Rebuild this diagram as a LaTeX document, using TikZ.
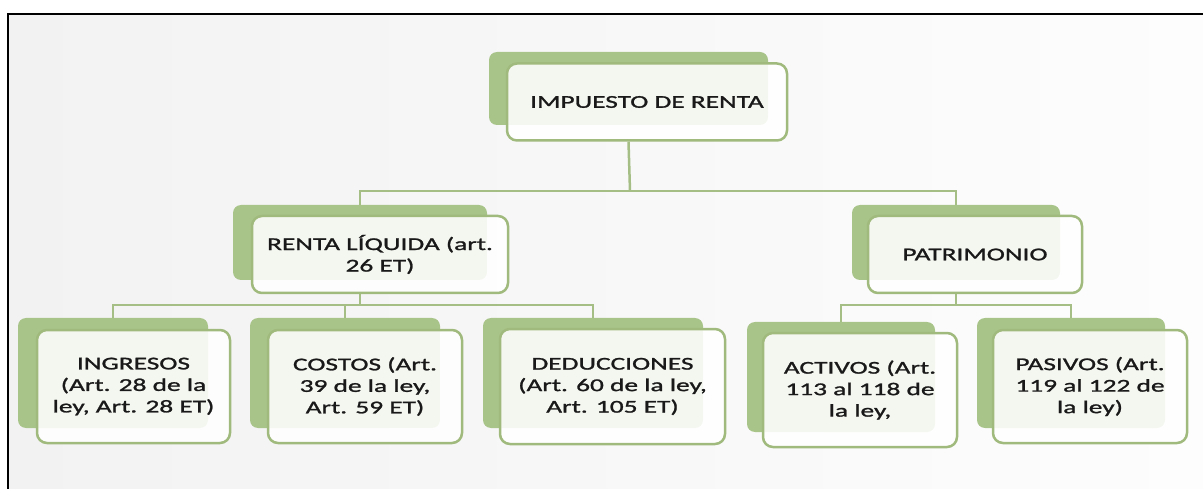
\documentclass[tikz,border=0pt]{standalone}
\usepackage{fontspec}
\setmainfont[FakeStretch=1.52,FakeBold=1.3]{Carlito}
\definecolor{gback}{RGB}{169,196,137}
\definecolor{gedge}{RGB}{160,185,124}
\definecolor{gline}{RGB}{165,190,133}
\definecolor{bgL}{RGB}{242,242,242}
\definecolor{bgR}{RGB}{253,253,253}
\pgfdeclarelayer{bgfill}
\pgfdeclarelayer{bglines}
\pgfsetlayers{bgfill,bglines,main}
\tikzset{
  backbox/.style={fill=gback, draw=none, rounded corners=8pt, inner sep=0pt},
  frontbox/.style={draw=gedge, line width=2.5pt, fill=white, fill opacity=0.88, text opacity=1,
    rounded corners=10pt, inner sep=0pt, align=center, text=black!90,
    font=\fontsize{18}{21.5}\selectfont},
  conn/.style={draw=gline, line width=2.5pt}
}
\begin{document}
\begin{tikzpicture}[x=1pt,y=-1pt]
\useasboundingbox (0,0) rectangle (1203,489);

% back boxes
\node[backbox, minimum width=279pt, minimum height=73pt] (impB) at (628.5,88.5) {};
\node[backbox, minimum width=254pt, minimum height=75pt] (renB) at (360,242.5) {};
\node[backbox, minimum width=208pt, minimum height=75pt] (patB) at (956,242.5) {};
\node[backbox, minimum width=190pt, minimum height=110pt] (ingB) at (113,373) {};
\node[backbox, minimum width=190pt, minimum height=110pt] (cosB) at (345,373) {};
\node[backbox, minimum width=220pt, minimum height=110pt] (dedB) at (593,373) {};
\node[backbox, minimum width=188pt, minimum height=110pt] (actB) at (841,377) {};
\node[backbox, minimum width=188pt, minimum height=110pt] (pasB) at (1071,373) {};

% bus points
\coordinate (bus0) at (630,191);
\coordinate (bus1) at (360,305);
\coordinate (bus2) at (956,305);

% front boxes
\node[frontbox, minimum width=280pt, minimum height=77pt] (impF) at (647,102) {IMPUESTO DE RENTA};
\node[frontbox, minimum width=256pt, minimum height=77pt] (renF) at (380,254.5) {RENTA LÍQUIDA (art.\\26 ET)};
\node[frontbox, minimum width=214pt, minimum height=77pt] (patF) at (975,254.5) {PATRIMONIO};
\node[frontbox, minimum width=193pt, minimum height=113pt] (ingF) at (133.5,386.5) {INGRESOS\\(Art. 28 de la\\ley, Art. 28 ET)};
\node[frontbox, minimum width=194pt, minimum height=113pt] (cosF) at (365,386.5) {COSTOS (Art.\\39 de la ley,\\Art. 59 ET)};
\node[frontbox, minimum width=225pt, minimum height=115pt] (dedF) at (612.5,386.5) {DEDUCCIONES\\(Art. 60 de la ley,\\Art. 105 ET)};
\node[frontbox, minimum width=194pt, minimum height=114pt] (actF) at (860,390) {ACTIVOS (Art.\\113 al 118 de\\la ley,};
\node[frontbox, minimum width=194pt, minimum height=113pt] (pasF) at (1090,386.5) {PASIVOS (Art.\\119 al 122 de\\la ley)};

% background and frame
\begin{pgfonlayer}{bgfill}
\fill[left color=bgL, right color=bgR] (8,14) rectangle (1203,489);
\draw[black, line width=1.6pt] (8,489) -- (8,14) -- (1203,14);
\end{pgfonlayer}

% connectors
\begin{pgfonlayer}{bglines}
\draw[conn] (impB.center |- impF.south) -- (bus0);
\draw[conn] (renB.north) -- (renB.north |- bus0) -- (patB.north |- bus0) -- (patB.north);
\draw[conn] (renB.center |- renF.south) -- (bus1);
\draw[conn] (ingB.north) -- (ingB.north |- bus1) -- (dedB.north |- bus1) -- (dedB.north);
\draw[conn] (cosB.north) -- (cosB.north |- bus1);
\draw[conn] (patB.center |- patF.south) -- (bus2);
\draw[conn] (actB.north) -- (actB.north |- bus2) -- (pasB.north |- bus2) -- (pasB.north);
\end{pgfonlayer}
\end{tikzpicture}
\end{document}
